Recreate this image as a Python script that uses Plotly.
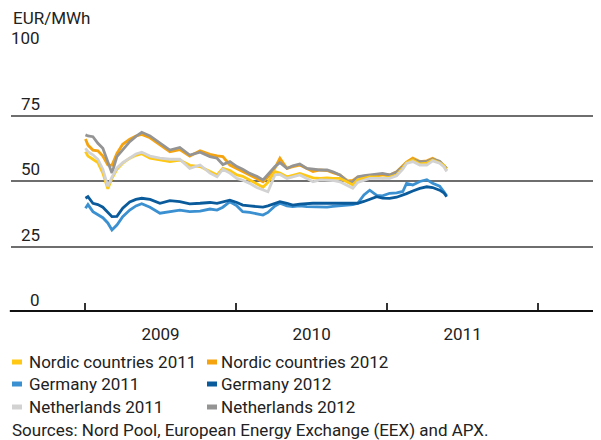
import plotly.graph_objects as go

# ---------------- data ----------------
dates = [
    "2009-01-02", "2009-01-08", "2009-01-20", "2009-02-01", "2009-02-13", "2009-02-25",
    "2009-03-07", "2009-03-19", "2009-04-02", "2009-04-19", "2009-05-04", "2009-05-18",
    "2009-06-07", "2009-07-01", "2009-07-25", "2009-08-18", "2009-09-11", "2009-10-06",
    "2009-10-30", "2009-11-16", "2009-11-30", "2009-12-17", "2010-01-03", "2010-01-17",
    "2010-02-03", "2010-02-20", "2010-03-07", "2010-03-19", "2010-04-05", "2010-04-17",
    "2010-05-04", "2010-05-18", "2010-06-04", "2010-06-21", "2010-07-06", "2010-07-23",
    "2010-08-09", "2010-08-23", "2010-09-09", "2010-09-28", "2010-10-10", "2010-10-22",
    "2010-11-06", "2010-11-20", "2010-12-07", "2010-12-21", "2011-01-07", "2011-01-24",
    "2011-02-08", "2011-02-17", "2011-03-04", "2011-03-21", "2011-04-07", "2011-04-21",
    "2011-05-08", "2011-05-18", "2011-05-25",
]

nordic_2011 = [
    61.2, 59.5, 58.3, 57.0, 53.0, 47.0, 51.0, 54.5, 56.8, 58.7, 59.8, 60.4,
    58.7, 58.0, 57.4, 58.0, 56.0, 55.5, 53.5, 52.3, 54.8, 54.0, 52.3, 51.8,
    50.4, 49.0, 47.6, 49.5, 53.6, 53.0, 51.6, 52.2, 52.9, 52.0, 51.2, 51.0,
    51.2, 51.0, 51.0, 49.5, 48.5, 50.5, 51.0, 51.6, 51.5, 51.2, 51.5, 52.3,
    55.0, 57.0, 58.0, 56.5, 56.8, 58.0, 57.0, 56.0, 54.0,
]
nordic_2012 = [
    66.0, 63.7, 61.8, 61.5, 59.5, 56.1, 56.0, 60.5, 64.0, 66.0, 67.2, 67.8,
    66.5, 63.7, 61.2, 62.0, 59.5, 61.5, 60.2, 59.6, 59.3, 56.1, 54.8, 53.5,
    52.3, 51.0, 49.7, 51.5, 55.0, 58.7, 54.8, 55.5, 56.1, 54.8, 53.6, 54.2,
    54.0, 53.2, 52.3, 50.0, 50.2, 51.5, 51.8, 52.0, 52.3, 52.5, 52.3, 53.5,
    55.8, 57.2, 58.7, 57.4, 57.7, 58.7, 57.3, 56.0, 54.8,
]
germany_2011 = [
    39.6, 41.0, 38.3, 37.0, 36.0, 34.0, 31.3, 33.2, 36.4, 38.9, 40.5, 41.3,
    40.0, 37.7, 38.3, 38.9, 38.3, 38.5, 39.3, 38.9, 40.0, 42.1, 40.5, 38.3,
    38.0, 37.5, 37.0, 38.0, 40.5, 41.5, 40.5, 40.2, 40.5, 40.2, 40.2, 40.2,
    40.0, 40.3, 40.5, 40.8, 41.0, 41.5, 44.7, 46.5, 44.5, 44.3, 45.3, 45.5,
    46.0, 49.1, 48.5, 49.8, 50.5, 49.1, 48.0, 46.0, 44.4,
]
germany_2012 = [
    43.4, 44.0, 41.5, 41.0, 40.0, 38.0, 36.4, 36.5, 39.6, 42.0, 43.0, 43.4,
    43.0, 41.5, 42.5, 42.1, 41.3, 41.5, 41.8, 41.5, 42.0, 42.7, 41.8, 40.8,
    40.5, 40.3, 40.0, 40.5, 41.5, 42.1, 41.5, 40.8, 41.2, 41.5, 41.5, 41.5,
    41.5, 41.3, 41.5, 41.3, 41.5, 41.5, 42.2, 43.0, 44.0, 43.5, 43.4, 43.8,
    44.5, 45.2, 46.2, 47.2, 47.8, 47.5, 46.5, 45.5, 44.0,
]
netherlands_2011 = [
    62.5, 61.2, 60.0, 58.3, 54.5, 48.0, 51.5, 55.0, 57.0, 58.7, 60.3, 61.0,
    59.5, 58.7, 58.3, 58.3, 54.8, 56.1, 53.0, 51.6, 54.5, 53.0, 51.0, 50.3,
    49.1, 47.5, 46.5, 45.9, 52.3, 52.5, 51.0, 51.5, 52.3, 51.0, 49.7, 50.4,
    50.4, 50.2, 49.7, 48.0, 47.2, 49.5, 50.2, 51.0, 51.0, 51.0, 51.0, 52.0,
    54.5, 56.7, 57.4, 56.1, 56.1, 57.7, 56.8, 55.5, 53.6,
]
netherlands_2012 = [
    67.6, 67.2, 66.9, 64.4, 62.5, 57.4, 53.0, 59.3, 62.0, 65.0, 67.0, 68.6,
    67.2, 64.4, 61.8, 62.8, 59.9, 61.0, 59.3, 58.7, 56.3, 57.4, 55.5, 54.5,
    52.9, 51.8, 50.4, 52.5, 55.5, 57.0, 54.8, 55.8, 56.5, 54.8, 54.5, 54.2,
    54.2, 53.5, 52.3, 49.7, 49.7, 51.6, 52.0, 52.3, 52.5, 52.9, 52.3, 53.4,
    55.5, 57.0, 58.0, 57.4, 57.4, 58.3, 57.5, 56.0, 54.8,
]

series_names = [
    "Nordic countries 2011", "Nordic countries 2012",
    "Germany 2011", "Germany 2012",
    "Netherlands 2011", "Netherlands 2012",
]
series_values = [nordic_2011, nordic_2012, germany_2011, germany_2012,
                 netherlands_2011, netherlands_2012]
series_colors = ["#FFC814", "#F5A30F", "#3A90D0", "#0A5B9C", "#D2D2D2", "#949494"]

y_ticks = [0, 25, 50, 75, 100]
unit_label = "EUR/MWh"
source_text = "Sources: Nord Pool, European Energy Exchange (EEX) and APX."

# ---------------- figure ----------------
# The page body has an 8px default margin, so the figure is sized/offset to fit the window.
OFF = 8
W, H = 601 - OFF, 440 - OFF
ML, MR, MT, MB = 11 - OFF, 0, 50 - OFF, 128
PW, PH = W - ML - MR, H - MT - MB
FONT = "Roboto"
FS = 17
TXT = "#222222"

def px_x(p):  # window pixel -> paper x
    return (p - OFF - ML) / PW

def px_y(p):  # window pixel -> paper y
    return (H - MB - (p - OFF)) / PH

fig = go.Figure()

# drawing order (back to front)
draw_order = [2, 3, 1, 5, 0, 4]
for i in draw_order:
    fig.add_trace(go.Scatter(
        x=dates, y=series_values[i], name=series_names[i], mode="lines",
        line=dict(color=series_colors[i], width=2.8), showlegend=False,
        hoverinfo="skip",
    ))

fig.update_layout(
    width=W, height=H,
    margin=dict(l=ML, r=MR, t=MT, b=MB, pad=0),
    paper_bgcolor="white", plot_bgcolor="white",
    showlegend=False,
    font=dict(family=FONT, size=FS, color=TXT),
    xaxis=dict(
        type="date", range=["2008-07-06", "2012-06-01"],
        tick0="2009-01-01", dtick="M12", tickformat="%Y", ticklabelmode="period",
        ticks="inside", ticklen=9, tickwidth=1.5, tickcolor="#333333",
        showgrid=False, zeroline=False, showline=False,
        ticklabelstandoff=10, tickfont=dict(family=FONT, size=FS, color=TXT),
        fixedrange=True,
    ),
    yaxis=dict(
        range=[0, 100], tickvals=[v for v in y_ticks if v > 0],
        showticklabels=False, showgrid=True, gridcolor="#6E6E6E", gridwidth=1.6,
        zeroline=False, ticks="", fixedrange=True,
    ),
)

# thick baseline at zero
fig.add_shape(type="line", xref="paper", yref="y", x0=-0.002, x1=1, y0=0, y1=0,
              line=dict(color="#111111", width=4), layer="above")

# y tick labels (right-aligned, sitting above each gridline)
for v in y_ticks:
    fig.add_annotation(x=px_x(42), xref="paper", y=v, yref="y", text=str(v),
                       showarrow=False, xanchor="right", yanchor="middle", yshift=12,
                       font=dict(family=FONT, size=FS, color=TXT))

# unit label
fig.add_annotation(x=px_x(11), xref="paper", y=px_y(18), yref="paper", text=unit_label,
                   showarrow=False, xanchor="left", yanchor="middle",
                   font=dict(family=FONT, size=FS, color=TXT))

# legend (two columns, three rows)
row_y = [362, 384, 407]
col_sw = [12, 207]
col_tx = [27, 219]
for k, name in enumerate(series_names):
    r, c = k // 2, k % 2
    yc = row_y[r]
    fig.add_shape(type="rect", xref="paper", yref="paper",
                  x0=px_x(col_sw[c]), x1=px_x(col_sw[c] + 10),
                  y0=px_y(yc + 2.5), y1=px_y(yc - 2.5),
                  fillcolor=series_colors[k], line=dict(width=0))
    fig.add_annotation(x=px_x(col_tx[c]), xref="paper", y=px_y(yc), yref="paper",
                       text=name, showarrow=False, xanchor="left", yanchor="middle",
                       font=dict(family=FONT, size=FS, color=TXT))

# source note
fig.add_annotation(x=px_x(10), xref="paper", y=px_y(430), yref="paper", text=source_text,
                   showarrow=False, xanchor="left", yanchor="middle",
                   font=dict(family=FONT, size=FS, color=TXT))

fig.write_html("out.html")
